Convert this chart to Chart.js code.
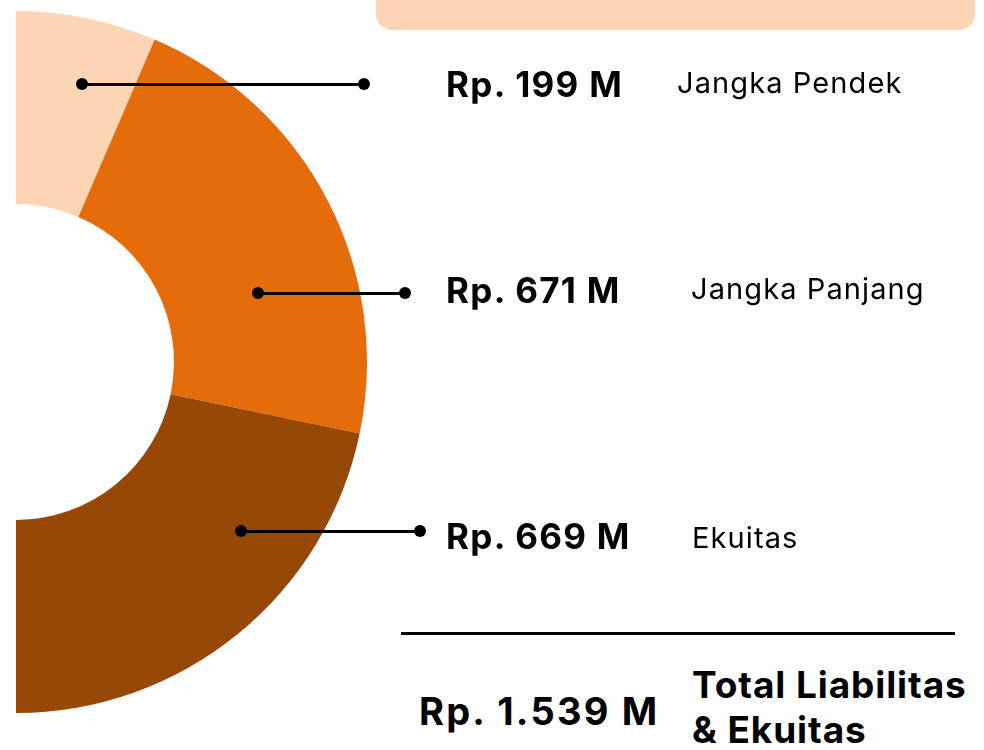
<!DOCTYPE html>
<html>
<head>
<meta charset="utf-8">
<script src="https://cdn.jsdelivr.net/npm/chart.js@4/dist/chart.umd.min.js"></script>
<style>
    body { margin: 0; width: 984px; height: 750px; background: #fff; position: relative; overflow: hidden; font-family: Inter, "Noto Sans", sans-serif; color: #000; }
    #wrap { position: absolute; left: 16px; top: 11px; width: 351px; height: 702px; }
    .banner { position: absolute; left: 376px; top: -40px; width: 599px; height: 70px; background: #FCD5B5; border-radius: 16px; }
    .lead { position: absolute; height: 3px; background: #000; }
    .dot { position: absolute; width: 12px; height: 12px; border-radius: 50%; background: #000; margin: -6px 0 0 -6px; }
    .val { position: absolute; font-weight: 700; font-size: 35px; line-height: 35px; letter-spacing: 1.3px; white-space: nowrap; }
    .name { position: absolute; font-weight: 400; font-size: 29px; line-height: 29px; letter-spacing: 1.1px; white-space: nowrap; }
    .rule { position: absolute; left: 401px; top: 632px; width: 554px; height: 3px; background: #000; }
    .total { position: absolute; left: 419px; top: 692px; font-weight: 700; font-size: 38px; line-height: 38px; letter-spacing: 2.2px; white-space: nowrap; }
    .totalName { position: absolute; left: 692px; top: 662px; font-weight: 700; font-size: 37px; line-height: 45px; letter-spacing: 0.9px; white-space: nowrap; }
</style>
</head>
<body>
<div class="banner"></div>
<div id="wrap"><canvas id="myChart"></canvas></div>

<div id="notes"></div>

<div class="rule"></div>
<div class="total" id="total"></div>
<div class="totalName">Total Liabilitas<br>&amp; Ekuitas</div>

<script>
// data (in Rp. Miliar)
let labels = ['Jangka Pendek', 'Jangka Panjang', 'Ekuitas'];
let values = [199, 671, 669];
let valueText = ['Rp. 199 M', 'Rp. 671 M', 'Rp. 669 M'];
let totalText = 'Rp. 1.539 M';
let colors = ['#FCD5B5', '#E46C0A', '#974706'];

// leader line placement for each slice: [y, x start, x end, label x, name x]
let leaders = [
    [84, 82, 364, 446, 677],
    [293, 258, 405, 446, 691],
    [531, 241, 420, 446, 692]
];

let configDonut = {
    type: 'doughnut',
    data: {
        labels: labels,
        datasets: [{
            data: values,
            backgroundColor: colors,
            borderWidth: 0
        }]
    },
    options: {
        responsive: true,
        maintainAspectRatio: false,
        animation: false,
        rotation: 0,
        circumference: 180,
        cutout: '45%',
        layout: { padding: 0 },
        plugins: {
            legend: { display: false },
            tooltip: { enabled: false }
        }
    }
};

var myChart = new Chart(document.getElementById('myChart'), configDonut);

// notes beside the chart
let notes = document.getElementById('notes');
let textY = [84, 290, 536];
let nameY = [82, 288, 537];
leaders.forEach((l, i) => {
    let line = document.createElement('div');
    line.className = 'lead';
    line.style.left = l[1] + 'px';
    line.style.top = (l[0] - 1.5) + 'px';
    line.style.width = (l[2] - l[1]) + 'px';
    notes.appendChild(line);

    [l[1], l[2]].forEach(x => {
        let dot = document.createElement('div');
        dot.className = 'dot';
        dot.style.left = x + 'px';
        dot.style.top = l[0] + 'px';
        notes.appendChild(dot);
    });

    let v = document.createElement('div');
    v.className = 'val';
    v.style.left = l[3] + 'px';
    v.style.top = (textY[i] - 17.5) + 'px';
    v.innerText = valueText[i];
    notes.appendChild(v);

    let n = document.createElement('div');
    n.className = 'name';
    n.style.left = l[4] + 'px';
    n.style.top = (nameY[i] - 14.5) + 'px';
    n.innerText = labels[i];
    notes.appendChild(n);
});

document.getElementById('total').innerText = totalText;
</script>
</body>
</html>
